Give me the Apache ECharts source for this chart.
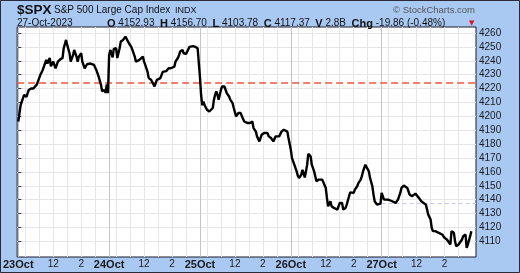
<!DOCTYPE html>
<html>
<head>
<meta charset="utf-8">
<script src="https://cdn.jsdelivr.net/npm/echarts@6/dist/echarts.min.js"></script>
<style>
html,body{margin:0;padding:0;background:#a9c9f3;}
#c{width:520px;height:273px;}
</style>
</head>
<body>
<div id="c"></div>
<script>
// ---- Data (5-minute bar index from 23 Oct 09:30, closing value) ----
const bars = [
0,2,5,7,9,11,13,16,19,21,22,24,25,27,28,30,31,32,34,36,38,39,41,42,44,45,47,48,50,51,52,54,55,57,59,62,65,67,69,71,72,74,75,76,77,
78,79,81,82,84,85,87,88,90,92,93,95,97,98,100,101,102,104,107,108,109,111,112,114,115,117,118,119,122,124,125,127,129,131,132,134,135,137,138,139,141,142,144,145,147,148,150,151,152,154,155,
156,157,158,159,160,162,164,165,167,168,169,170,171,172,174,175,177,178,179,181,182,184,185,187,188,189,191,192,194,195,197,198,199,201,202,204,205,207,208,209,211,212,214,215,217,218,219,221,222,224,225,226,228,229,231,232,233,
234,235,236,237,239,240,241,243,244,245,246,248,249,251,252,254,255,256,258,259,261,262,264,265,266,268,269,271,272,274,275,276,278,279,281,282,284,285,286,288,289,291,292,294,295,296,298,299,301,302,304,305,306,308,309,311,
312,314,315,316,318,319,321,322,324,325,326,328,329,331,332,334,335,336,338,339,341,342,344,345,346,348,349,350,351,352,354,355,356,358,359,361,362,364,365,366,368,369,371,372,374,375,376,378,379,381,382,384,385,386,388,389
];
const prices = [
4196.3,4208,4215.5,4214,4219,4220,4220,4223,4230,4233.4,4234.6,4240.6,4238,4242,4236,4239.4,4240.6,4234.6,4239.4,4241,4242,4249,4255,4251.4,4245.4,4239.4,4244,4247.8,4243,4239.4,4243,4245.4,4239.4,4234.6,4237.5,4238,4237,4233.4,4228.6,4222.7,4218,4219,4217,4223,4216.7,
4244,4247.8,4242.5,4248.5,4249,4242,4249,4253.8,4255,4257.4,4256,4252.6,4250,4247.8,4243,4239.4,4238,4240.6,4243,4239.4,4237,4232,4227.5,4226.3,4225,4221.5,4224,4226.3,4227.5,4232,4233.4,4232.5,4234.6,4234.6,4235.8,4235.8,4239.4,4242,4244,4246.6,4247.8,4245.4,4245,4246.6,4250,4251.4,4250.5,4250,4250,4249,4247.7,
4228,4215,4208,4210.7,4208,4204.7,4203.5,4203.5,4206,4212,4215.5,4218,4215.5,4212,4219,4221.5,4221.5,4220.3,4216.7,4214.3,4212,4209.5,4206,4200,4201.1,4202.4,4202.4,4200,4196.3,4197.5,4195.2,4194,4195.2,4196.3,4191.6,4189,4185.6,4182,4183.2,4186.8,4188,4189,4188,4185.6,4184.4,4183.2,4182,4185.6,4186.8,4185.6,4186.5,4189,4190.4,4190.4,4189,4184.4,4185,
4176,4170,4168.8,4165.2,4160.4,4157.3,4155.7,4158,4161.6,4161,4156,4165,4173,4171.2,4165.2,4160.4,4156.9,4153.3,4154.5,4155.7,4154.5,4154.5,4148.5,4141.3,4135.3,4138.9,4135.3,4134.1,4132.9,4132.9,4134,4137.7,4137.7,4132.9,4134.1,4136.5,4142.5,4145.3,4145.3,4144.9,4147.3,4149.7,4152,4154.5,4156.9,4160.4,4165.2,4164,4160.4,4155.7,4149.7,4143.7,4138.9,4136.5,4136.5,4137.2,
4145,4140.1,4141.3,4140.1,4140,4138.9,4138.9,4138.9,4137.7,4136.5,4140.1,4144.9,4148.5,4150.2,4149.7,4148.5,4146.1,4143.7,4142.5,4143.7,4144.4,4143.7,4141.3,4140.1,4138.9,4137.7,4138.9,4136.5,4132.9,4129.3,4125.8,4119.8,4117.4,4117.4,4117.4,4116.2,4115,4115,4113.8,4112.6,4111.4,4112.6,4107.8,4117.4,4116.2,4110.2,4106.6,4107.8,4107.8,4111.4,4113.8,4115,4105.4,4107.8,4113.8,4117.4
];
const dayLabels = ['23Oct','24Oct','25Oct','26Oct','27Oct'];
const barsPerDay = 78;
const intradayLabels = [{bar: 30, text: '12'}, {bar: 54, text: '2'}];
const hourGridBars = [6, 18, 30, 42, 54, 66];
const yTickValues = [4110,4120,4130,4140,4150,4160,4170,4180,4190,4200,4210,4220,4230,4240,4250,4260];
const prevWeekClose = 4224.16;
const prevDayClose = 4137.23;
const lastDayStartBar = 312;

// ---- build ticks ----
const labelValues = [], labelMap = {};
const gridValues = [];
dayLabels.forEach((d, i) => {
  const s = i * barsPerDay;
  labelValues.push(s); labelMap[s] = '{d|' + d + '}';
  intradayLabels.forEach(t => { labelValues.push(s + t.bar); labelMap[s + t.bar] = '{h|' + t.text + '}'; });
  gridValues.push(s);
  hourGridBars.forEach(h => gridValues.push(s + h));
});
const xMin = -1, xMax = 393;
const yMin = 4098.8, yMax = 4264.3;

const chart = echarts.init(document.getElementById('c'), null, {renderer: 'canvas'});
const FONT = 'Liberation Sans, Arial, sans-serif';
chart.setOption({
  backgroundColor: '#a9c9f3',
  animation: false,
  textStyle: {fontFamily: FONT},
  grid: {left: 16, right: 44, top: 27, bottom: 16, show: true, backgroundColor: '#ffffff', borderColor: '#1a1a2a', borderWidth: 1},
  xAxis: {
    type: 'value', min: xMin, max: xMax,
    axisLine: {show: false},
    axisTick: {show: false, customValues: gridValues},
    splitLine: {show: true, lineStyle: {width: 1, color: ['#c4c4c4','#e6e6e6','#e6e6e6','#e6e6e6','#e6e6e6','#e6e6e6','#e6e6e6']}},
    axisLabel: {
      customValues: labelValues, margin: 2,
      formatter: v => labelMap[v] || '',
      rich: {
        d: {fontFamily: FONT, fontWeight: 'bold', fontSize: 11, color: '#1a1a1a'},
        h: {fontFamily: FONT, fontSize: 10, color: '#1a1a1a'}
      }
    }
  },
  yAxis: {
    type: 'value', position: 'right', min: yMin, max: yMax,
    axisLine: {show: false},
    axisTick: {show: true, length: 3, customValues: yTickValues, lineStyle: {color: '#333'}},
    splitLine: {show: true, lineStyle: {color: '#e6e6e6', width: 1}},
    axisLabel: {customValues: yTickValues, margin: 3, fontFamily: FONT, fontSize: 10, color: '#1a1a1a', formatter: v => String(Math.round(v))}
  },
  series: [{
    type: 'line',
    data: bars.map((b, i) => [b, prices[i]]),
    showSymbol: false,
    lineStyle: {color: '#000', width: 2.4},
    z: 5,
    markLine: {
      silent: true, symbol: 'none', label: {show: false},
      data: [
        {yAxis: prevWeekClose, lineStyle: {color: '#f2553f', width: 1.6, type: [7, 4]}},
        [{coord: [lastDayStartBar, prevDayClose], lineStyle: {color: '#c9c9f2', width: 1, type: [4, 3]}}, {coord: [xMax, prevDayClose]}]
      ]
    }
  }],
  graphic: [
    {type: 'rect', shape: {x: 0.5, y: 0.5, width: 519, height: 272}, style: {fill: 'none', stroke: '#2a2a3a', lineWidth: 1}, z: 100},
    {type: 'text', x: 17, y: 10, style: {text: '$SPX', font: 'bold 13.5px ' + FONT, fill: '#111', textVerticalAlign: 'middle'}},
    {type: 'text', x: 54, y: 10.5, style: {text: 'S&P 500 Large Cap Index', font: '10px ' + FONT, fill: '#111', textVerticalAlign: 'middle'}},
    {type: 'text', x: 175, y: 11, style: {text: 'INDX', font: '9px ' + FONT, fill: '#111', textVerticalAlign: 'middle'}},
    {type: 'text', x: 17, y: 23.5, style: {text: '27-Oct-2023', font: '10px ' + FONT, fill: '#111', textVerticalAlign: 'middle'}},
    {type: 'text', x: 107, y: 23.5, style: {
      text: '{b|O} 4152.93  {b|H} 4156.70  {b|L} 4103.78  {b|C} 4117.37  {b|V} 2.8B  {b|Chg} -19.86 (-0.48%)',
      font: '10px ' + FONT, fill: '#111', textVerticalAlign: 'middle',
      rich: {b: {font: 'bold 11px ' + FONT, fill: '#111'}}
    }},
    {type: 'text', x: 469, y: 23, style: {text: '▼', font: '7px DejaVu Sans', fill: '#e0102a', textVerticalAlign: 'middle'}},
    {type: 'text', x: 475, y: 10, style: {text: '© StockCharts.com', font: '9.5px ' + FONT, fill: '#555', textAlign: 'right', textVerticalAlign: 'middle'}}
  ]
});
</script>
</body>
</html>
